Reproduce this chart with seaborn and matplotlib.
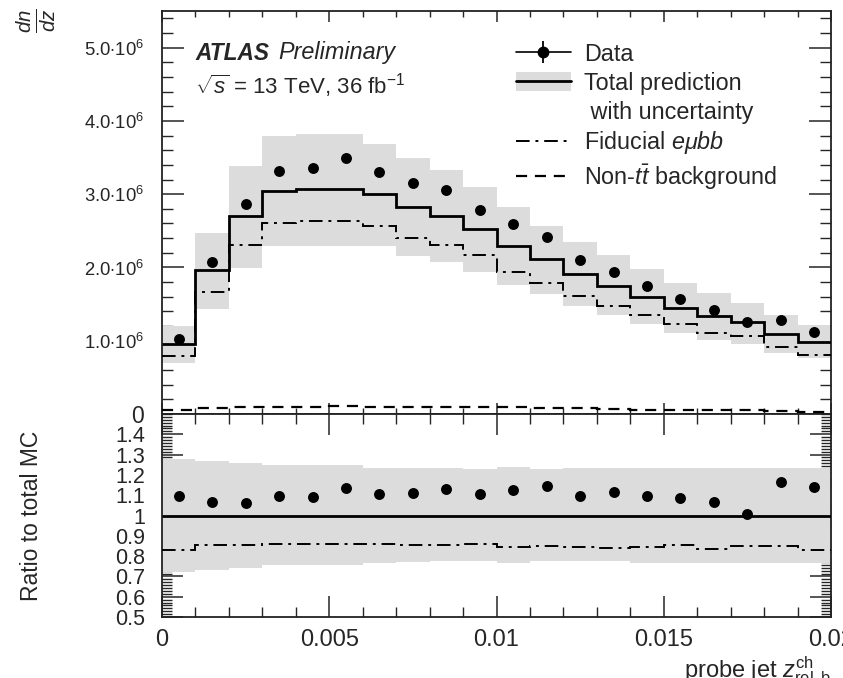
import numpy as np
import pandas as pd
import matplotlib
matplotlib.use("Agg")
import matplotlib.pyplot as plt
import seaborn as sns
from matplotlib.lines import Line2D
from matplotlib.patches import Patch
from matplotlib.ticker import MultipleLocator, FixedLocator, FuncFormatter, AutoMinorLocator
from matplotlib.legend_handler import HandlerTuple

# ---------------- data ----------------
bin_edges = [0.000, 0.001, 0.002, 0.003, 0.004, 0.005, 0.006, 0.007, 0.008, 0.009, 0.010,
             0.011, 0.012, 0.013, 0.014, 0.015, 0.016, 0.017, 0.018, 0.019, 0.020]
data_vals = [1.03e6, 2.07e6, 2.86e6, 3.32e6, 3.36e6, 3.49e6, 3.30e6, 3.15e6, 3.06e6, 2.79e6,
             2.59e6, 2.42e6, 2.10e6, 1.94e6, 1.75e6, 1.57e6, 1.42e6, 1.26e6, 1.28e6, 1.12e6]
total_pred = [0.952e6, 1.96e6, 2.70e6, 3.04e6, 3.07e6, 3.07e6, 3.00e6, 2.82e6, 2.70e6, 2.52e6,
              2.295e6, 2.11e6, 1.91e6, 1.75e6, 1.60e6, 1.44e6, 1.34e6, 1.25e6, 1.09e6, 0.98e6]
total_up = [1.206e6, 2.47e6, 3.39e6, 3.79e6, 3.825e6, 3.825e6, 3.69e6, 3.49e6, 3.33e6, 3.10e6,
            2.83e6, 2.57e6, 2.35e6, 2.17e6, 1.98e6, 1.785e6, 1.65e6, 1.51e6, 1.35e6, 1.22e6]
total_down = [0.692e6, 1.43e6, 1.99e6, 2.29e6, 2.29e6, 2.29e6, 2.29e6, 2.16e6, 2.08e6, 1.94e6,
              1.76e6, 1.64e6, 1.475e6, 1.35e6, 1.23e6, 1.10e6, 1.01e6, 0.956e6, 0.83e6, 0.76e6]
fiducial = [0.79e6, 1.66e6, 2.30e6, 2.605e6, 2.63e6, 2.63e6, 2.56e6, 2.40e6, 2.31e6, 2.17e6,
            1.94e6, 1.785e6, 1.61e6, 1.475e6, 1.35e6, 1.23e6, 1.10e6, 1.06e6, 0.92e6, 0.81e6]
non_ttbar = [0.05e6, 0.08e6, 0.09e6, 0.10e6, 0.10e6, 0.11e6, 0.10e6, 0.10e6, 0.09e6, 0.09e6,
             0.09e6, 0.08e6, 0.08e6, 0.07e6, 0.06e6, 0.06e6, 0.05e6, 0.05e6, 0.04e6, 0.03e6]

ratio_data = [1.095, 1.066, 1.063, 1.095, 1.092, 1.135, 1.104, 1.112, 1.129, 1.104,
              1.127, 1.147, 1.097, 1.117, 1.094, 1.087, 1.066, 1.008, 1.167, 1.139]
ratio_total = [1.0] * 20
ratio_up = [1.28, 1.267, 1.26, 1.25, 1.25, 1.25, 1.236, 1.233, 1.233, 1.228,
            1.24, 1.228, 1.233, 1.233, 1.233, 1.233, 1.233, 1.233, 1.236, 1.236]
ratio_down = [0.72, 0.733, 0.74, 0.757, 0.757, 0.757, 0.766, 0.769, 0.774, 0.774,
              0.766, 0.774, 0.774, 0.774, 0.766, 0.766, 0.766, 0.766, 0.766, 0.766]
ratio_fid = [0.832, 0.853, 0.856, 0.860, 0.858, 0.860, 0.860, 0.856, 0.853, 0.860,
             0.845, 0.848, 0.845, 0.842, 0.843, 0.853, 0.835, 0.848, 0.848, 0.832]

upper_yticks = [0, 1e6, 2e6, 3e6, 4e6, 5e6]
ratio_yticks = [0.5, 0.6, 0.7, 0.8, 0.9, 1.0, 1.1, 1.2, 1.3, 1.4]
xticks = [0, 0.005, 0.01, 0.015, 0.02]
xtick_labels = ["0", "0.005", "0.01", "0.015", "0.02"]

# ---------------- style ----------------
sns.set_theme(style="ticks")
plt.rcParams["font.family"] = ["Liberation Sans", "DejaVu Sans"]
plt.rcParams["mathtext.fontset"] = "custom"
plt.rcParams["mathtext.rm"] = "Liberation Sans"
plt.rcParams["mathtext.it"] = "Liberation Sans:italic"
plt.rcParams["mathtext.bf"] = "Liberation Sans:bold"
plt.rcParams["axes.linewidth"] = 1.3
plt.rcParams["axes.edgecolor"] = "#222222"

band_color = "#dcdcdc"
dashdot = (0, (7, 3, 1.5, 3))
dashed = (0, (5, 3.5))

edges = np.array(bin_edges)
centers = 0.5 * (edges[:-1] + edges[1:])
df = pd.DataFrame({"z": centers, "data": data_vals, "ratio": ratio_data})

fig = plt.figure(figsize=(8.43, 6.78), dpi=100)
L, R = 162 / 843, 831 / 843
y_top, y_mid, y_bot = 1 - 11 / 678, 1 - 414 / 678, 1 - 617 / 678
ax1 = fig.add_axes([L, y_mid, R - L, y_top - y_mid])
ax2 = fig.add_axes([L, y_bot, R - L, y_mid - y_bot], sharex=ax1)

# ---------------- upper panel ----------------
ax1.stairs(total_up, edges, baseline=total_down, fill=True, color=band_color, lw=0, zorder=1)
ax1.stairs(total_pred, edges, color="black", lw=2.0, baseline=None, zorder=3)
ax1.stairs(fiducial, edges, color="black", lw=1.4, ls=dashdot, baseline=None, zorder=3)
ax1.stairs(non_ttbar, edges, color="black", lw=1.6, ls=dashed, baseline=None, zorder=3)
sns.scatterplot(data=df, x="z", y="data", ax=ax1, color="black", s=62,
                edgecolor="black", linewidth=0, zorder=5, legend=False)

ax1.set_xlim(0, 0.02)
ax1.set_ylim(0, 5.5e6)
ax1.yaxis.set_major_locator(FixedLocator(upper_yticks))
ax1.yaxis.set_minor_locator(MultipleLocator(0.2e6))
ax1.xaxis.set_major_locator(FixedLocator(xticks))
ax1.xaxis.set_minor_locator(MultipleLocator(0.001))


def upper_fmt(v, pos):
    if abs(v) < 1:
        return "0"
    return r"%.1f$\cdot$10$^{6}$" % (v / 1e6)


ax1.yaxis.set_major_formatter(FuncFormatter(upper_fmt))
ax1.tick_params(axis="y", which="major", direction="in", length=16, width=1.1,
                left=True, right=True, labelsize=13.3, pad=13)
ax1.tick_params(axis="y", which="minor", direction="in", length=8, width=1.0,
                left=True, right=True)
ax1.tick_params(axis="x", which="major", direction="in", length=8, width=1.1,
                top=True, bottom=True, labelbottom=False)
ax1.tick_params(axis="x", which="minor", direction="in", length=4, width=1.0,
                top=True, bottom=True)
for lab in ax1.get_yticklabels():
    if lab.get_text() == "0":
        lab.set_fontsize(16.5)
ax1.set_xlabel("")
ax1.set_ylabel("")

fig.text(36 / 843, 1 - 21 / 678, r"$\frac{dn}{dz}$", rotation=90, ha="center",
         va="center", fontsize=21)

ax1.text((195 - 162) / 669, 1 - (53 - 11) / 403, "ATLAS", transform=ax1.transAxes,
         fontsize=16.3, fontweight="bold", fontstyle="italic", va="center", ha="left")
ax1.text((278 - 162) / 669, 1 - (53 - 11) / 403, "Preliminary", transform=ax1.transAxes,
         fontsize=16.8, fontstyle="italic", va="center", ha="left")
ax1.text((195 - 162) / 669, 1 - (86 - 11) / 403, r"$\sqrt{s}$ = 13 TeV, 36 fb$^{-1}$",
         transform=ax1.transAxes, fontsize=16, va="center", ha="left")

h_data = (Line2D([], [], color="black", lw=1.2),
          Line2D([], [], color="black", marker="|", ms=16, mew=1.3, ls="none"),
          Line2D([], [], color="black", marker="o", ms=7.5, ls="none"))
h_tot = (Patch(facecolor=band_color, edgecolor="none"), Line2D([], [], color="black", lw=2.0))
h_blank = Line2D([], [], alpha=0)
h_fid = Line2D([], [], color="black", lw=1.4, ls=dashdot)
h_bkg = Line2D([], [], color="black", lw=1.6, ls=dashed)
leg = ax1.legend([h_data, h_tot, h_blank, h_fid, h_bkg],
                 ["Data", "Total prediction", " with uncertainty",
                  r"Fiducial $e\mu bb$", r"Non-$t\bar{t}$ background"],
                 handler_map={tuple: HandlerTuple(ndivide=1)},
                 loc="upper left", bbox_to_anchor=((516 - 162) / 669, 1 - (43 - 11) / 403),
                 frameon=False, fontsize=16.8, borderpad=0, borderaxespad=0,
                 handlelength=2.35, handleheight=0.85, handletextpad=0.55, labelspacing=0.25)

# ---------------- ratio panel ----------------
ax2.stairs(ratio_up, edges, baseline=ratio_down, fill=True, color=band_color, lw=0, zorder=1)
ax2.stairs(ratio_total, edges, color="black", lw=2.0, baseline=None, zorder=3)
ax2.stairs(ratio_fid, edges, color="black", lw=1.4, ls=dashdot, baseline=None, zorder=3)
sns.scatterplot(data=df, x="z", y="ratio", ax=ax2, color="black", s=62,
                edgecolor="black", linewidth=0, zorder=5, legend=False)

ax2.set_xlim(0, 0.02)
ax2.set_ylim(0.5, 1.5)
ax2.yaxis.set_major_locator(FixedLocator(ratio_yticks))
ax2.yaxis.set_major_formatter(FuncFormatter(lambda v, p: ("%g" % round(v, 2))))
ax2.yaxis.set_minor_locator(AutoMinorLocator(7))
ax2.xaxis.set_major_locator(FixedLocator(xticks))
ax2.xaxis.set_major_formatter(FuncFormatter(lambda v, p: xtick_labels[p] if p is not None and p < len(xtick_labels) else ""))
ax2.xaxis.set_minor_locator(MultipleLocator(0.001))
ax2.tick_params(axis="y", which="major", direction="in", length=15, width=1.1,
                left=True, right=True, labelsize=15.5, pad=12)
ax2.tick_params(axis="y", which="minor", direction="in", length=7, width=1.0,
                left=True, right=True)
ax2.tick_params(axis="x", which="major", direction="in", length=15, width=1.1,
                top=True, bottom=True, labelsize=17, pad=9)
ax2.tick_params(axis="x", which="minor", direction="in", length=7, width=1.0,
                top=True, bottom=True)
ax2.set_ylabel("Ratio to total MC", fontsize=16.5)
ax2.yaxis.set_label_coords((43 - 162) / 669, 0.5)
ax2.set_xlabel(r"probe jet $z^{\mathrm{ch}}_{\mathrm{rel,b}}$", fontsize=17, loc="right",
               labelpad=2)

fig.savefig("out.png", dpi=100)
